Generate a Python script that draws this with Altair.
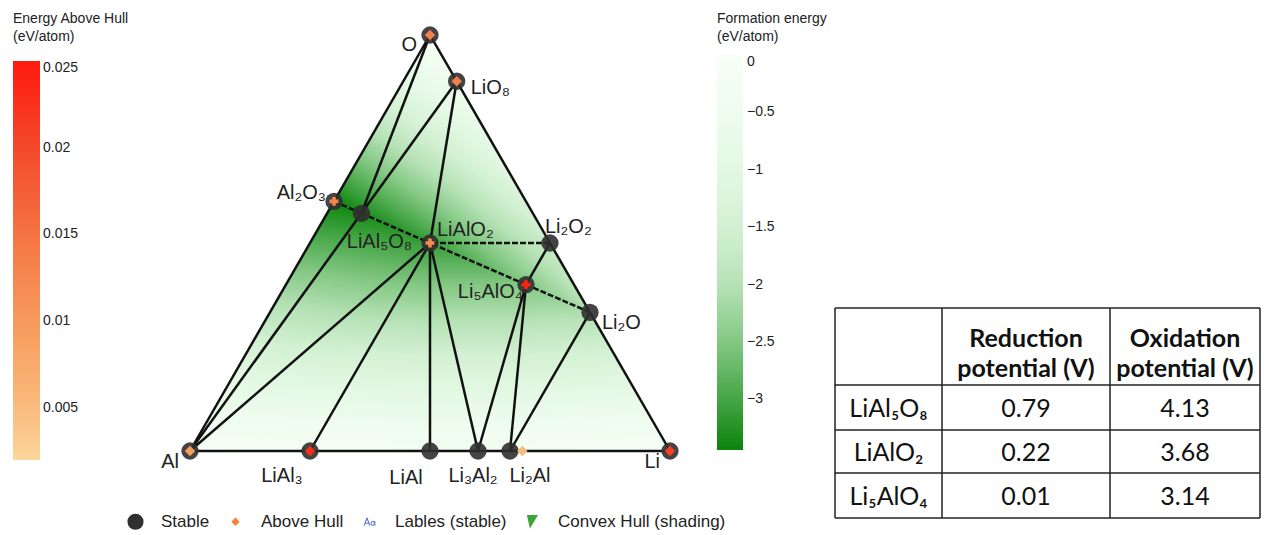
import math
import altair as alt
import pandas as pd

# ------------------------------------------------------------------ data
STABLE_NAMES = ["O", "LiO8", "Li2O2", "Li2O", "Li", "Al", "Al2O3", "LiAl5O8",
                "LiAlO2", "Li5AlO4", "LiAl3", "LiAl", "Li3Al2", "Li2Al"]
STABLE_LABELS = ["O", "LiO₈", "Li₂O₂", "Li₂O", "Li", "Al", "Al₂O₃", "LiAl₅O₈",
                 "LiAlO₂", "Li₅AlO₄", "LiAl₃", "LiAl", "Li₃Al₂", "Li₂Al"]
STABLE_LI = [0, 1, 2, 2, 1, 0, 0, 1, 1, 5, 1, 1, 3, 2]
STABLE_AL = [0, 0, 0, 0, 0, 1, 2, 5, 1, 1, 3, 1, 2, 1]
STABLE_O = [1, 8, 2, 1, 0, 0, 3, 8, 2, 4, 0, 0, 0, 0]
FORMATION_E = [0.0, -0.38, -1.65, -2.07, 0.0, 0.0, -3.43, -3.33,
               -3.10, -2.52, -0.08, -0.17, -0.16, -0.14]

UNSTABLE_NAMES = ["O", "LiO8", "Al", "LiAl3", "Li9Al4", "Li", "Al2O3", "LiAlO2", "Li5AlO4"]
UNSTABLE_LI = [0, 1, 0, 1, 9, 1, 0, 1, 5]
UNSTABLE_AL = [0, 0, 1, 3, 4, 0, 2, 1, 1]
UNSTABLE_O = [1, 8, 0, 0, 0, 0, 3, 2, 4]
E_ABOVE_HULL = [0.0135, 0.0135, 0.0095, 0.023, 0.005, 0.021, 0.013, 0.012, 0.024]

FACETS = [
    ("O", "Al2O3", "LiAl5O8"), ("O", "LiAl5O8", "LiO8"), ("LiO8", "LiAl5O8", "LiAlO2"),
    ("LiO8", "LiAlO2", "Li2O2"), ("LiAlO2", "Li2O2", "Li5AlO4"), ("Li2O2", "Li5AlO4", "Li2O"),
    ("Li5AlO4", "Li2O", "Li2Al"), ("Li2O", "Li2Al", "Li"), ("Li5AlO4", "Li3Al2", "Li2Al"),
    ("LiAlO2", "Li5AlO4", "Li3Al2"), ("LiAlO2", "LiAl", "Li3Al2"), ("LiAlO2", "LiAl3", "LiAl"),
    ("Al", "LiAlO2", "LiAl3"), ("Al", "LiAl5O8", "LiAlO2"), ("Al", "Al2O3", "LiAl5O8"),
]
DASHED_EDGES = [("Al2O3", "LiAl5O8"), ("LiAl5O8", "LiAlO2"), ("LiAlO2", "Li5AlO4"),
                ("Li5AlO4", "Li2O"), ("LiAlO2", "Li2O2")]

TABLE_COMPOUNDS = ["LiAl₅O₈", "LiAlO₂", "Li₅AlO₄"]
TABLE_REDUCTION = ["0.79", "0.22", "0.01"]
TABLE_OXIDATION = ["4.13", "3.68", "3.14"]
TABLE_HEADERS = [["Reduction", "potential (V)"], ["Oxidation", "potential (V)"]]

LEGEND_ITEMS = ["Stable", "Above Hull", "Lables (stable)", "Convex Hull (shading)"]

GREEN_DOMAIN = [-3.44, -3.0, -2.5, -2.0, -1.5, -1.0, -0.5, 0.0]
GREEN_RANGE = ["#0b840b", "#45a545", "#84c884", "#b6e2b6", "#d3f1d3", "#e3f8e3", "#eefcee", "#f7fff7"]
GREEN_TICKS = [0, -0.5, -1, -1.5, -2, -2.5, -3]
RED_DOMAIN = [0.002, 0.005, 0.01, 0.015, 0.02, 0.025]
RED_RANGE = ["#fcd69c", "#f9bb7c", "#f79a5c", "#f47442", "#f4492b", "#ff1a0e"]
RED_TICKS = [0.005, 0.01, 0.015, 0.02, 0.025]

# ------------------------------------------------------------------ style
FONT = "Liberation Sans"
TFONT = "Lato"
XS = alt.Scale(domain=[0, 1], range=[182, 662], nice=False, zero=False)
SQ3 = math.sqrt(3.0) / 2.0
YS = alt.Scale(domain=[0, SQ3], range=[443, 27], nice=False, zero=False)
CROSS_MARKERS = ["Al2O3", "LiAlO2", "Li5AlO4"]
LABEL_STYLE = {
    "O": ("right", -13, 10), "LiO8": ("left", 14, 7), "Li2O2": ("left", -5, -16),
    "Li2O": ("left", 12, 11), "Li": ("right", -10, 11), "Al": ("right", -11, 11),
    "Al2O3": ("right", -8, -8), "LiAl5O8": ("center", 18, 29), "LiAlO2": ("left", 7, -13),
    "Li5AlO4": ("right", -3, 7), "LiAl3": ("center", -28, 25), "LiAl": ("center", -24, 27),
    "Li3Al2": ("center", -5, 25), "Li2Al": ("center", 20, 25),
}
TCOL_EDGES = [0, 107, 275, 425]
TROW_EDGES = [0, 77, 122, 165, 210]
TX = alt.Scale(domain=[0, 425], range=[827, 1252], nice=False, zero=False)
TY = alt.Scale(domain=[0, 210], range=[300, 510], nice=False, zero=False)


def ring(cx, cy, r_out, r_in, n=12):
    outer = [(cx + r_out * math.cos(2 * math.pi * i / n), cy + r_out * math.sin(2 * math.pi * i / n))
             for i in range(n)]
    inner = [(cx + r_in * math.cos(-2 * math.pi * i / n), cy + r_in * math.sin(-2 * math.pi * i / n))
             for i in range(n)]
    s = "M" + "L".join("%.3f,%.3f" % p for p in outer) + "Z"
    s += "M" + "L".join("%.3f,%.3f" % p for p in inner) + "Z"
    return s


A_PATH = ("M-0.75,0.5L-0.4,-0.5L-0.24,-0.5L0.11,0.5L-0.03,0.5L-0.32,-0.3L-0.61,0.5Z"
          "M-0.5,0.12L-0.14,0.12L-0.14,0.24L-0.5,0.24Z" + ring(0.42, 0.2, 0.3, 0.17)
          + "M0.64,-0.1L0.74,-0.1L0.74,0.5L0.64,0.5Z")
TRI_PATH = "M-0.75,-0.9L0.75,-0.9L-0.35,0.9Z"


def tern(li, al, o):
    n = li + al + o
    return li / n + 0.5 * o / n, SQ3 * o / n


def hex2rgb(h):
    return tuple(int(h[i:i + 2], 16) for i in (1, 3, 5))


def green_at(e):
    d, r = GREEN_DOMAIN, GREEN_RANGE
    if e <= d[0]:
        return r[0]
    if e >= d[-1]:
        return r[-1]
    for i in range(len(d) - 1):
        if d[i] <= e <= d[i + 1]:
            t = (e - d[i]) / (d[i + 1] - d[i])
            c0, c1 = hex2rgb(r[i]), hex2rgb(r[i + 1])
            return "#%02x%02x%02x" % tuple(int(round(c0[k] + (c1[k] - c0[k]) * t)) for k in range(3))
    return r[-1]


# ------------------------------------------------------------------ tables
sxy = [tern(a, b, c) for a, b, c in zip(STABLE_LI, STABLE_AL, STABLE_O)]
stable = pd.DataFrame({"name": STABLE_NAMES, "label": STABLE_LABELS, "ef": FORMATION_E,
                       "x": [p[0] for p in sxy], "y": [p[1] for p in sxy]})
pos = {n: p for n, p in zip(STABLE_NAMES, sxy)}
efd = dict(zip(STABLE_NAMES, FORMATION_E))

uxy = [tern(a, b, c) for a, b, c in zip(UNSTABLE_LI, UNSTABLE_AL, UNSTABLE_O)]
unstable = pd.DataFrame({"name": UNSTABLE_NAMES, "e_hull": E_ABOVE_HULL,
                         "x": [p[0] for p in uxy], "y": [p[1] for p in uxy]})


def X(f="x"):
    return alt.X(f + ":Q", scale=XS, axis=None)


def Y(f="y"):
    return alt.Y(f + ":Q", scale=YS, axis=None)


def facet_layer(tri):
    pts = sorted([(pos[n][0], pos[n][1], efd[n]) for n in tri], key=lambda p: p[0])
    (xa, ya, _), (xb, yb, _), (xc, yc, _) = pts
    eps = 1e-9
    if abs(xb - xa) < eps:
        rows = [dict(x=xa, lo=min(ya, yb), hi=max(ya, yb)), dict(x=xc, lo=yc, hi=yc)]
    elif abs(xc - xb) < eps:
        rows = [dict(x=xa, lo=ya, hi=ya), dict(x=xc, lo=min(yb, yc), hi=max(yb, yc))]
    else:
        yac = ya + (yc - ya) * (xb - xa) / (xc - xa)
        rows = [dict(x=xa, lo=ya, hi=ya), dict(x=xb, lo=min(yb, yac), hi=max(yb, yac)),
                dict(x=xc, lo=yc, hi=yc)]
    xs = [p[0] for p in pts]
    ys = [p[1] for p in pts]
    x0, x1, y0, y1 = min(xs), max(xs), min(ys), max(ys)
    uv = [((p[0] - x0) / (x1 - x0), (y1 - p[1]) / (y1 - y0), p[2]) for p in pts]
    (u1, v1, e1), (u2, v2, e2), (u3, v3, e3) = uv
    den = (u2 - u1) * (v3 - v1) - (u3 - u1) * (v2 - v1)
    a = ((e2 - e1) * (v3 - v1) - (e3 - e1) * (v2 - v1)) / den
    b = ((u2 - u1) * (e3 - e1) - (u3 - u1) * (e2 - e1)) / den
    g2 = a * a + b * b
    emin = min(e1, e2, e3)
    emax = max(e1, e2, e3)
    p0 = min(uv, key=lambda q: q[2])
    span = emax - emin
    px1 = p0[0] + a * span / g2
    py1 = p0[1] + b * span / g2
    es = [emin] + [d for d in GREEN_DOMAIN if emin < d < emax] + [emax]
    stops = [alt.GradientStop(offset=round((e - emin) / span, 4), color=green_at(e)) for e in es]
    grad = alt.LinearGradient(gradient="linear", stops=stops,
                              x1=round(p0[0], 5), y1=round(p0[1], 5),
                              x2=round(px1, 5), y2=round(py1, 5))
    return alt.Chart(pd.DataFrame(rows)).mark_area(color=grad, opacity=1).encode(
        x=X(), y=Y("lo"), y2="hi:Q")


facet_layers = [facet_layer(t) for t in FACETS]

edge_keys = []
for tri in FACETS:
    for i in range(3):
        k = tuple(sorted((tri[i], tri[(i + 1) % 3])))
        if k not in edge_keys:
            edge_keys.append(k)
dashed_keys = {tuple(sorted(e)) for e in DASHED_EDGES}
edges = pd.DataFrame([dict(x=pos[a][0], y=pos[a][1], x2=pos[b][0], y2=pos[b][1],
                           dashed=(a, b) in dashed_keys) for a, b in edge_keys])

solid = alt.Chart(edges[~edges.dashed]).mark_rule(color="#111111", strokeWidth=2.5).encode(
    x=X(), y=Y(), x2="x2:Q", y2="y2:Q")
dashed = alt.Chart(edges[edges.dashed]).mark_rule(color="#111111", strokeWidth=2.5,
                                                  strokeDash=[6, 2]).encode(
    x=X(), y=Y(), x2="x2:Q", y2="y2:Q")

circles = alt.Chart(stable).mark_circle(size=300, color="#303030", opacity=0.9).encode(x=X(), y=Y())

red_scale = alt.Scale(domain=RED_DOMAIN, range=RED_RANGE, interpolate="rgb")
red_legend = alt.Legend(
    title=["Energy Above Hull", "(eV/atom)"], orient="none", legendX=5, legendY=4,
    direction="vertical", gradientLength=399, gradientThickness=27, values=RED_TICKS,
    format="~g", labelFontSize=14, labelFont=FONT, labelColor="#222222", labelOffset=3,
    titleFontSize=14, titleFont=FONT, titleFontWeight="normal", titleColor="#222222",
    titlePadding=17, titleLineHeight=18, gradientStrokeWidth=0, padding=0,
    titleLimit=300, labelOverlap=False)

diamonds = alt.Chart(unstable[~unstable.name.isin(CROSS_MARKERS)]).mark_point(
    shape="diamond", filled=True, size=110, opacity=1).encode(
    x=X(), y=Y(), color=alt.Color("e_hull:Q", scale=red_scale, legend=red_legend))
crosses = alt.Chart(unstable[unstable.name.isin(CROSS_MARKERS)]).mark_point(
    shape="cross", filled=True, size=80, opacity=1).encode(
    x=X(), y=Y(), color=alt.Color("e_hull:Q", scale=red_scale, legend=None))

labels = []
for n in STABLE_NAMES:
    al, dx, dy = LABEL_STYLE[n]
    labels.append(alt.Chart(stable).transform_filter(alt.datum.name == n).mark_text(
        align=al, baseline="middle", dx=dx, dy=dy, font=FONT, fontSize=20, color="#222222").encode(
        x=X(), y=Y(), text="label:N"))

green_scale = alt.Scale(domain=GREEN_DOMAIN, range=GREEN_RANGE, interpolate="rgb")
green_legend = alt.Legend(
    title=["Formation energy", "(eV/atom)"], orient="none", legendX=709, legendY=4,
    direction="vertical", gradientLength=395, gradientThickness=26, values=GREEN_TICKS,
    format="~g", labelFontSize=14, labelFont=FONT, labelColor="#222222", labelOffset=4,
    titleFontSize=14, titleFont=FONT, titleFontWeight="normal", titleColor="#222222",
    titlePadding=11, titleLineHeight=18, gradientStrokeWidth=0, padding=0,
    titleLimit=300, labelOverlap=False)
green_hidden = alt.Chart(stable).mark_point(opacity=0).encode(
    x=X(), y=Y(), color=alt.Color("ef:Q", scale=green_scale, legend=green_legend))

item_legend = alt.Legend(
    title=None, orient="none", direction="horizontal", legendX=119, legendY=505,
    labelFontSize=17, labelFont=FONT, labelColor="#222222", labelOffset=17,
    columnPadding=17, symbolOpacity=1, symbolStrokeWidth=0, padding=0, labelLimit=400)
items = pd.DataFrame({"item": LEGEND_ITEMS})
items_hidden = alt.Chart(items).mark_point(filled=True, opacity=0).encode(
    color=alt.Color("item:N", scale=alt.Scale(domain=LEGEND_ITEMS,
                    range=["#303030", "#f5833f", "#5a7bb5", "#3aa63a"]), legend=item_legend),
    shape=alt.Shape("item:N", scale=alt.Scale(domain=LEGEND_ITEMS,
                    range=["circle", "diamond", A_PATH, TRI_PATH]), legend=item_legend),
    size=alt.Size("item:N", scale=alt.Scale(type="ordinal", domain=LEGEND_ITEMS,
                  range=[260, 70, 250, 220]), legend=item_legend))

ternary = alt.layer(*facet_layers, solid, dashed, circles, diamonds, crosses, *labels,
                    green_hidden, items_hidden).resolve_scale(
    color="independent", shape="independent", size="independent")

# ------------------------------------------------------------------ table
hl = pd.DataFrame([dict(x=TCOL_EDGES[0], x2=TCOL_EDGES[-1], y=r, y2=r) for r in TROW_EDGES])
vl = pd.DataFrame([dict(x=c, x2=c, y=TROW_EDGES[0], y2=TROW_EDGES[-1]) for c in TCOL_EDGES])
grid = pd.concat([hl, vl], ignore_index=True)


def TXE(f="x"):
    return alt.X(f + ":Q", scale=TX, axis=None)


def TYE(f="y"):
    return alt.Y(f + ":Q", scale=TY, axis=None)


tgrid = alt.Chart(grid).mark_rule(color="#222222", strokeWidth=1.5).encode(
    x=TXE(), y=TYE(), x2="x2:Q", y2="y2:Q")

cx = [(TCOL_EDGES[i] + TCOL_EDGES[i + 1]) / 2 for i in range(3)]
cy = [(TROW_EDGES[i] + TROW_EDGES[i + 1]) / 2 for i in range(4)]
head_rows = []
for j, lines in enumerate(TABLE_HEADERS):
    for k, t in enumerate(lines):
        head_rows.append(dict(x=cx[j + 1], y=cy[0] - 8 + 30 * k, t=t))
body_rows = []
for i in range(3):
    body_rows.append(dict(x=cx[0], y=cy[i + 1] + 1, t=TABLE_COMPOUNDS[i]))
    body_rows.append(dict(x=cx[1], y=cy[i + 1] + 1, t=TABLE_REDUCTION[i]))
    body_rows.append(dict(x=cx[2], y=cy[i + 1] + 1, t=TABLE_OXIDATION[i]))
thead = alt.Chart(pd.DataFrame(head_rows)).mark_text(
    font=TFONT, fontSize=25, fontWeight="bold", color="#111111", baseline="middle").encode(
    x=TXE(), y=TYE(), text="t:N")
tbody = alt.Chart(pd.DataFrame(body_rows)).mark_text(
    font=TFONT, fontSize=25, color="#111111", baseline="middle").encode(
    x=TXE(), y=TYE(), text="t:N")
table = alt.layer(tgrid, thead, tbody)

chart = alt.layer(ternary, table).resolve_scale(x="independent", y="independent").properties(
    width=1253, height=527, autosize=alt.AutoSizeParams(type="none"), padding=0
).configure(font=FONT).configure_view(stroke=None)

chart.save("out.html", embed_options={"renderer": "svg", "actions": False})
